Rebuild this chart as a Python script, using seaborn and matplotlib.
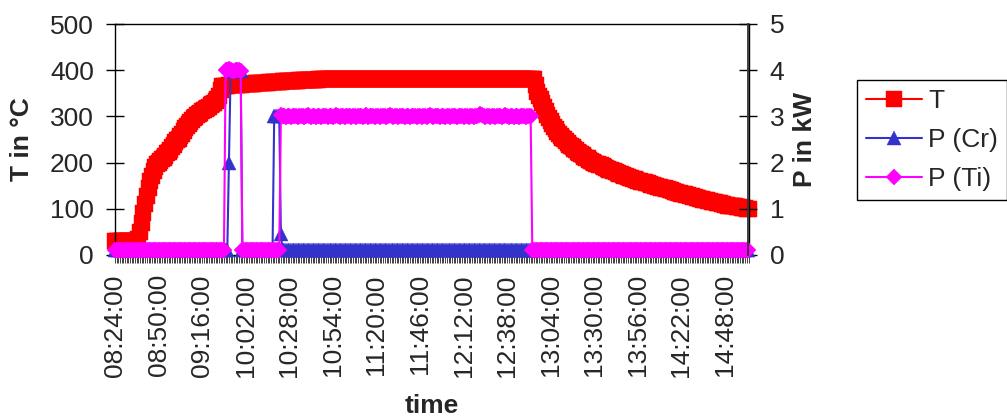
import numpy as np
import pandas as pd
import matplotlib
matplotlib.use("Agg")
import matplotlib.pyplot as plt
import seaborn as sns

# ---------------- data (1-minute samples on a category axis) ----------------
tick_labels = ["08:24:00", "08:50:00", "09:16:00", "10:02:00", "10:28:00",
               "10:54:00", "11:20:00", "11:46:00", "12:12:00", "12:38:00",
               "13:04:00", "13:30:00", "13:56:00", "14:22:00", "14:48:00"]

temperature = [
    30, 30, 30, 30, 30, 30, 30, 30, 30, 30,
    30, 30, 30, 30, 35, 50, 70, 90, 110, 128,
    145, 160, 172, 182, 190, 196, 200, 204, 207, 211,
    215, 220, 224, 228, 233, 239, 244, 248, 252, 257,
    262, 268, 274, 279, 283, 288, 292, 296, 299, 302,
    305, 308, 311, 314, 316, 319, 321, 324, 327, 330,
    333, 338, 345, 358, 365, 365, 366, 366, 367, 367,
    368, 368, 369, 369, 369, 369, 370, 370, 370, 370,
    371, 371, 371, 371, 372, 372, 372, 372, 373, 373,
    373, 373, 374, 374, 374, 374, 375, 375, 375, 375,
    376, 376, 376, 376, 377, 377, 377, 377, 377, 377,
    378, 378, 378, 378, 378, 378, 379, 379, 379, 379,
    379, 379, 380, 380, 380, 380, 380, 380, 380, 380,
    381, 381, 381, 381, 381, 381, 381, 381, 381, 381,
    381, 381, 381, 381, 381, 381, 381, 381, 381, 381,
    381, 381, 381, 381, 381, 381, 381, 381, 381, 381,
    381, 381, 381, 381, 381, 381, 381, 381, 381, 381,
    381, 381, 381, 381, 381, 381, 381, 381, 381, 381,
    381, 381, 381, 381, 381, 381, 381, 381, 381, 381,
    381, 381, 381, 381, 381, 381, 381, 381, 381, 381,
    381, 381, 381, 381, 381, 381, 381, 381, 381, 381,
    381, 381, 381, 381, 381, 381, 381, 381, 381, 381,
    381, 381, 381, 381, 381, 381, 381, 381, 381, 381,
    381, 381, 381, 381, 381, 381, 381, 381, 381, 381,
    381, 381, 381, 381, 381, 381, 381, 381, 381, 381,
    381, 368, 352, 344, 337, 328, 320, 311, 303, 296,
    290, 283, 277, 272, 267, 262, 257, 253, 250, 246,
    243, 239, 236, 233, 230, 227, 224, 221, 219, 216,
    213, 211, 209, 206, 204, 202, 200, 198, 197, 195,
    194, 192, 190, 188, 187, 185, 184, 182, 181, 179,
    178, 176, 175, 173, 172, 170, 169, 167, 166, 165,
    164, 162, 161, 160, 159, 158, 157, 156, 155, 153,
    152, 151, 150, 149, 148, 147, 146, 145, 144, 143,
    142, 141, 140, 138, 137, 136, 135, 134, 133, 132,
    131, 130, 129, 128, 127, 126, 125, 124, 123, 122,
    121, 120, 119, 118, 117, 116, 115, 114.5, 114, 113,
    112, 111.5, 111, 110, 109, 108, 107, 106.5, 106, 105.5,
    105, 104.5, 104, 103, 102, 101.5, 101, 100.5, 100,
]

p_cr = [
    0.1, 0.1, 0.1, 0.1, 0.1, 0.1, 0.1, 0.1, 0.1, 0.1,
    0.1, 0.1, 0.1, 0.1, 0.1, 0.1, 0.1, 0.1, 0.1, 0.1,
    0.1, 0.1, 0.1, 0.1, 0.1, 0.1, 0.1, 0.1, 0.1, 0.1,
    0.1, 0.1, 0.1, 0.1, 0.1, 0.1, 0.1, 0.1, 0.1, 0.1,
    0.1, 0.1, 0.1, 0.1, 0.1, 0.1, 0.1, 0.1, 0.1, 0.1,
    0.1, 0.1, 0.1, 0.1, 0.1, 0.1, 0.1, 0.1, 0.1, 0.1,
    0.1, 0.1, 0.1, 0.1, 0.1, 0.1, 0.1, 0.1, 2.0, 3.98,
    3.98, 3.98, 3.98, 3.98, 3.98, 3.98, 0.1, 0.1, 0.1, 0.1,
    0.1, 0.1, 0.1, 0.1, 0.1, 0.1, 0.1, 0.1, 0.1, 0.1,
    0.1, 0.1, 0.1, 0.1, 0.1, 3.0, 3.0, 3.0, 3.0, 0.45,
    0.1, 0.1, 0.1, 0.1, 0.1, 0.1, 0.1, 0.1, 0.1, 0.1,
    0.1, 0.1, 0.1, 0.1, 0.1, 0.1, 0.1, 0.1, 0.1, 0.1,
    0.1, 0.1, 0.1, 0.1, 0.1, 0.1, 0.1, 0.1, 0.1, 0.1,
    0.1, 0.1, 0.1, 0.1, 0.1, 0.1, 0.1, 0.1, 0.1, 0.1,
    0.1, 0.1, 0.1, 0.1, 0.1, 0.1, 0.1, 0.1, 0.1, 0.1,
    0.1, 0.1, 0.1, 0.1, 0.1, 0.1, 0.1, 0.1, 0.1, 0.1,
    0.1, 0.1, 0.1, 0.1, 0.1, 0.1, 0.1, 0.1, 0.1, 0.1,
    0.1, 0.1, 0.1, 0.1, 0.1, 0.1, 0.1, 0.1, 0.1, 0.1,
    0.1, 0.1, 0.1, 0.1, 0.1, 0.1, 0.1, 0.1, 0.1, 0.1,
    0.1, 0.1, 0.1, 0.1, 0.1, 0.1, 0.1, 0.1, 0.1, 0.1,
    0.1, 0.1, 0.1, 0.1, 0.1, 0.1, 0.1, 0.1, 0.1, 0.1,
    0.1, 0.1, 0.1, 0.1, 0.1, 0.1, 0.1, 0.1, 0.1, 0.1,
    0.1, 0.1, 0.1, 0.1, 0.1, 0.1, 0.1, 0.1, 0.1, 0.1,
    0.1, 0.1, 0.1, 0.1, 0.1, 0.1, 0.1, 0.1, 0.1, 0.1,
    0.1, 0.1, 0.1, 0.1, 0.1, 0.1, 0.1, 0.1, 0.1, 0.1,
    0.1, 0.1, 0.1, 0.1, 0.1, 0.1, 0.1, 0.1, 0.1, 0.1,
    0.1, 0.1, 0.1, 0.1, 0.1, 0.1, 0.1, 0.1, 0.1, 0.1,
    0.1, 0.1, 0.1, 0.1, 0.1, 0.1, 0.1, 0.1, 0.1, 0.1,
    0.1, 0.1, 0.1, 0.1, 0.1, 0.1, 0.1, 0.1, 0.1, 0.1,
    0.1, 0.1, 0.1, 0.1, 0.1, 0.1, 0.1, 0.1, 0.1, 0.1,
    0.1, 0.1, 0.1, 0.1, 0.1, 0.1, 0.1, 0.1, 0.1, 0.1,
    0.1, 0.1, 0.1, 0.1, 0.1, 0.1, 0.1, 0.1, 0.1, 0.1,
    0.1, 0.1, 0.1, 0.1, 0.1, 0.1, 0.1, 0.1, 0.1, 0.1,
    0.1, 0.1, 0.1, 0.1, 0.1, 0.1, 0.1, 0.1, 0.1, 0.1,
    0.1, 0.1, 0.1, 0.1, 0.1, 0.1, 0.1, 0.1, 0.1, 0.1,
    0.1, 0.1, 0.1, 0.1, 0.1, 0.1, 0.1, 0.1, 0.1, 0.1,
    0.1, 0.1, 0.1, 0.1, 0.1, 0.1, 0.1, 0.1, 0.1, 0.1,
    0.1, 0.1, 0.1, 0.1, 0.1, 0.1, 0.1, 0.1, 0.1,
]

p_ti = [
    0.1, 0.1, 0.1, 0.1, 0.1, 0.1, 0.1, 0.1, 0.1, 0.1,
    0.1, 0.1, 0.1, 0.1, 0.1, 0.1, 0.1, 0.1, 0.1, 0.1,
    0.1, 0.1, 0.1, 0.1, 0.1, 0.1, 0.1, 0.1, 0.1, 0.1,
    0.1, 0.1, 0.1, 0.1, 0.1, 0.1, 0.1, 0.1, 0.1, 0.1,
    0.1, 0.1, 0.1, 0.1, 0.1, 0.1, 0.1, 0.1, 0.1, 0.1,
    0.1, 0.1, 0.1, 0.1, 0.1, 0.1, 0.1, 0.1, 0.1, 0.1,
    0.1, 0.1, 0.1, 0.1, 0.1, 0.1, 4.0, 4.01, 4.02, 4.0,
    3.98, 3.99, 4.0, 4.01, 4.0, 3.99, 0.1, 0.1, 0.1, 0.1,
    0.1, 0.1, 0.1, 0.1, 0.1, 0.1, 0.1, 0.1, 0.1, 0.1,
    0.1, 0.1, 0.1, 0.1, 0.1, 0.1, 0.1, 0.1, 0.1, 3.02,
    3.01, 3.0, 2.99, 3.01, 3.0, 2.98, 3.0, 3.01, 3.0, 2.99,
    3.0, 3.01, 3.0, 2.99, 3.01, 3.02, 3.0, 2.99, 3.0, 3.01,
    2.99, 3.0, 3.0, 2.98, 3.0, 3.01, 3.0, 2.99, 3.01, 3.0,
    2.99, 3.0, 3.02, 3.0, 2.99, 3.0, 3.01, 2.98, 3.0, 3.01,
    3.0, 2.99, 3.0, 3.01, 2.99, 3.0, 3.0, 3.01, 2.99, 3.0,
    3.02, 2.99, 3.0, 3.01, 3.0, 2.98, 3.0, 3.01, 2.99, 3.0,
    3.01, 3.0, 2.99, 3.0, 3.02, 3.0, 2.99, 3.01, 3.0, 2.98,
    3.0, 3.01, 3.0, 2.99, 3.0, 3.01, 2.99, 3.0, 3.01, 3.0,
    2.99, 3.01, 3.0, 2.98, 3.01, 3.0, 2.99, 3.0, 3.02, 3.0,
    2.99, 3.01, 3.0, 3.0, 2.99, 3.01, 3.0, 2.98, 3.0, 3.01,
    2.99, 3.0, 3.01, 3.0, 2.99, 3.0, 3.01, 3.0, 2.99, 3.01,
    3.0, 2.99, 3.01, 3.0, 2.99, 3.0, 3.01, 3.03, 3.05, 3.03,
    3.0, 2.99, 3.01, 3.0, 2.98, 3.0, 3.01, 2.99, 3.0, 3.01,
    3.0, 2.99, 3.0, 3.02, 3.0, 2.99, 3.01, 3.0, 2.99, 3.0,
    3.01, 2.99, 3.0, 3.01, 3.0, 2.98, 3.0, 3.01, 3.0, 0.1,
    0.1, 0.1, 0.1, 0.1, 0.1, 0.1, 0.1, 0.1, 0.1, 0.1,
    0.1, 0.1, 0.1, 0.1, 0.1, 0.1, 0.1, 0.1, 0.1, 0.1,
    0.1, 0.1, 0.1, 0.1, 0.1, 0.1, 0.1, 0.1, 0.1, 0.1,
    0.1, 0.1, 0.1, 0.1, 0.1, 0.1, 0.1, 0.1, 0.1, 0.1,
    0.1, 0.1, 0.1, 0.1, 0.1, 0.1, 0.1, 0.1, 0.1, 0.1,
    0.1, 0.1, 0.1, 0.1, 0.1, 0.1, 0.1, 0.1, 0.1, 0.1,
    0.1, 0.1, 0.1, 0.1, 0.1, 0.1, 0.1, 0.1, 0.1, 0.1,
    0.1, 0.1, 0.1, 0.1, 0.1, 0.1, 0.1, 0.1, 0.1, 0.1,
    0.1, 0.1, 0.1, 0.1, 0.1, 0.1, 0.1, 0.1, 0.1, 0.1,
    0.1, 0.1, 0.1, 0.1, 0.1, 0.1, 0.1, 0.1, 0.1, 0.1,
    0.1, 0.1, 0.1, 0.1, 0.1, 0.1, 0.1, 0.1, 0.1, 0.1,
    0.1, 0.1, 0.1, 0.1, 0.1, 0.1, 0.1, 0.1, 0.1, 0.1,
    0.1, 0.1, 0.1, 0.1, 0.1, 0.1, 0.1, 0.1, 0.1,
]

LABEL_EVERY = 26  # categories (minutes) between time labels

# ---------------- styling ----------------
sns.set_theme(style="white")
plt.rcParams["font.family"] = ["Liberation Sans", "DejaVu Sans"]
plt.rcParams["font.size"] = 19

RED = "#FF0000"
BLUE = "#3333CC"
MAGENTA = "#FF00FF"
FS = 19

n = min(len(temperature), len(p_cr), len(p_ti))
df = pd.DataFrame({
    "sample": np.arange(n),
    "T": temperature[:n],
    "P (Cr)": p_cr[:n],
    "P (Ti)": p_ti[:n],
})

W, H = 1007, 419
fig = plt.figure(figsize=(W / 100, H / 100), dpi=100)
fig.patch.set_facecolor("white")
ax1 = fig.add_axes([115 / W, 1 - 255 / H, 633.5 / W, 231 / H])
ax2 = ax1.twinx()

sns.lineplot(data=df, x="sample", y="T", ax=ax1, color=RED, marker="s",
             markersize=11.5, markeredgecolor=RED, markeredgewidth=0.3,
             linewidth=1.5, label="T", legend=False, clip_on=False,
             estimator=None, sort=False)
sns.lineplot(data=df, x="sample", y="P (Cr)", ax=ax2, color=BLUE, marker="^",
             markersize=10.5, markeredgecolor=BLUE, markeredgewidth=0.3,
             linewidth=1.5, label="P (Cr)", legend=False, clip_on=False,
             estimator=None, sort=False)
sns.lineplot(data=df, x="sample", y="P (Ti)", ax=ax2, color=MAGENTA, marker="D",
             markersize=8.2, markeredgecolor=MAGENTA, markeredgewidth=0.3,
             linewidth=1.5, label="P (Ti)", legend=False, clip_on=False,
             estimator=None, sort=False)

ax1.set_xlim(0, n - 1)
ax1.set_ylim(0, 500)
ax2.set_ylim(0, 5)
ax1.set_yticks(np.arange(0, 501, 100))
ax2.set_yticks(np.arange(0, 6, 1))

major = np.arange(0, LABEL_EVERY * len(tick_labels), LABEL_EVERY)
ax1.set_xticks(major)
ax1.set_xticklabels(tick_labels, rotation=90, fontsize=FS)
ax1.set_xticks(np.arange(0, n), minor=True)
ax1.tick_params(axis="x", which="both", direction="out", length=5.8,
                width=0.6, color="#222222", pad=8, bottom=True)
ax1.tick_params(axis="y", which="major", direction="inout", length=12.5,
                width=1.0, color="black", pad=9.0, labelsize=FS, left=True)
ax2.tick_params(axis="y", which="major", direction="inout", length=12.5,
                width=1.0, color="black", pad=9.0, labelsize=FS, right=True)

for sp in ax1.spines.values():
    sp.set_color("black")
    sp.set_linewidth(1.0)
for name, sp in ax2.spines.items():
    sp.set_visible(name == "right")
    sp.set_color("#333333")
    sp.set_linewidth(1.3)

ax1.set_xlabel("time", fontsize=FS, fontweight="bold")
ax1.xaxis.set_label_coords(0.5, -0.6)
ax1.set_ylabel("T in °C", fontsize=FS, fontweight="bold")
ax1.yaxis.set_label_coords(-0.128, 0.5)
ax2.set_ylabel("P in kW", fontsize=FS, fontweight="bold")
ax2.yaxis.set_label_coords(1.071, 0.5)

ax1.grid(False)
ax2.grid(False)

h1, l1 = ax1.get_legend_handles_labels()
h2, l2 = ax2.get_legend_handles_labels()
leg = fig.legend(h1 + h2, l1 + l2, loc="upper left",
                 bbox_to_anchor=(857 / W, 1 - 80 / H), borderaxespad=0,
                 frameon=True, fancybox=False, framealpha=1, edgecolor="black",
                 fontsize=FS, handlelength=2.1, handletextpad=0.25,
                 borderpad=0.35, labelspacing=0.56, numpoints=1)
leg.get_frame().set_linewidth(1.0)

fig.savefig("out.png", dpi=100, facecolor="white")
print(len(temperature), len(p_cr), len(p_ti))
